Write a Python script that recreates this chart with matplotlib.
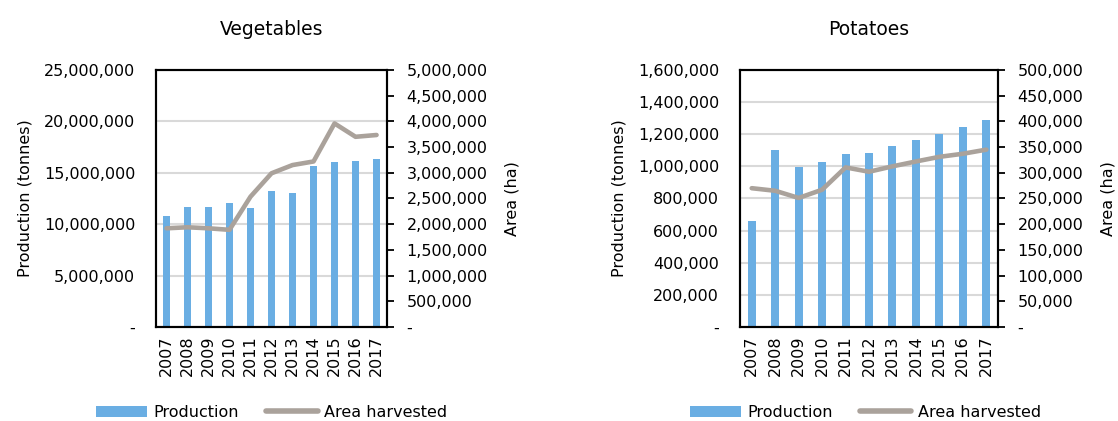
import matplotlib
matplotlib.use("Agg")
import matplotlib.pyplot as plt
from matplotlib.ticker import FuncFormatter, MultipleLocator
from matplotlib.patches import Patch
from matplotlib.lines import Line2D
import numpy as np

years = ["2007", "2008", "2009", "2010", "2011", "2012", "2013", "2014", "2015", "2016", "2017"]

veg_production = [10830000, 11700000, 11700000, 12060000, 11600000, 13200000,
                  13040000, 15700000, 16080000, 16150000, 16340000]
veg_area = [1920000, 1940000, 1920000, 1890000, 2535000, 2990000,
            3150000, 3220000, 3960000, 3700000, 3735000]

pot_production = [660000, 1104000, 998000, 1025000, 1077000, 1084000,
                  1125000, 1165000, 1204000, 1246000, 1286000]
pot_area = [270000, 265000, 251000, 267000, 310500, 302000,
            312500, 322000, 331000, 337000, 345000]

BAR = "#6aaee3"
LINE = "#aaa29b"
GRID = "#d9d9d9"
FS = 11.5

plt.rcParams["font.family"] = ["DejaVu Sans"]


def fmt(v, pos):
    if abs(v) < 1e-9:
        return "-"
    return f"{v:,.0f}"


def panel(rect, title, prod, area, pmax, pstep, amax, astep):
    ax = fig.add_axes(rect)
    x = np.arange(len(years))
    ax.bar(x, prod, width=0.34, color=BAR, zorder=2)
    ax.set_xlim(-0.5, len(years) - 0.5)
    ax.set_ylim(0, pmax)
    ax.yaxis.set_major_locator(MultipleLocator(pstep))
    ax.yaxis.set_major_formatter(FuncFormatter(fmt))
    ax.grid(axis="y", color=GRID, linewidth=1.5, zorder=0)
    ax.set_axisbelow(True)
    ax.set_xticks(x)
    ax.set_xticklabels(years, rotation=90, fontsize=FS)
    ax.tick_params(axis="y", length=0, labelsize=FS, pad=15)
    ax.tick_params(axis="x", length=0, pad=6)
    ax.set_ylabel("Production (tonnes)", fontsize=FS, labelpad=8)
    ax.set_title(title, fontsize=13.5, pad=25)
    for s in ax.spines.values():
        s.set_linewidth(1.5)
        s.set_color("black")

    ax2 = ax.twinx()
    ax2.plot(x, area, color=LINE, linewidth=3.3, solid_capstyle="round", zorder=3)
    ax2.set_ylim(0, amax)
    ax2.yaxis.set_major_locator(MultipleLocator(astep))
    ax2.yaxis.set_major_formatter(FuncFormatter(fmt))
    ax2.tick_params(axis="y", length=5, width=1.3, labelsize=FS, pad=9)
    ax2.set_ylabel("Area (ha)", fontsize=FS, labelpad=12)
    for s in ax2.spines.values():
        s.set_linewidth(1.5)
        s.set_color("black")
    return ax, ax2


fig = plt.figure(figsize=(11.18, 4.21), dpi=100)

panel([0.1395, 0.2233, 0.2067, 0.6105], "Vegetables",
      veg_production, veg_area, 25000000, 5000000, 5000000, 500000)
panel([0.6619, 0.2233, 0.2308, 0.6105], "Potatoes",
      pot_production, pot_area, 1600000, 200000, 500000, 50000)

handles = [Patch(facecolor=BAR, edgecolor="none"),
           Line2D([0], [0], color=LINE, linewidth=4, solid_capstyle="round")]
labels = ["Production", "Area harvested"]
for cx in (0.243, 0.774):
    fig.legend(handles, labels, loc="center", bbox_to_anchor=(cx, 0.02),
               ncol=2, frameon=False, fontsize=FS, handlelength=3.2,
               handletextpad=0.4, columnspacing=1.7)

fig.savefig("out.png", dpi=100)
